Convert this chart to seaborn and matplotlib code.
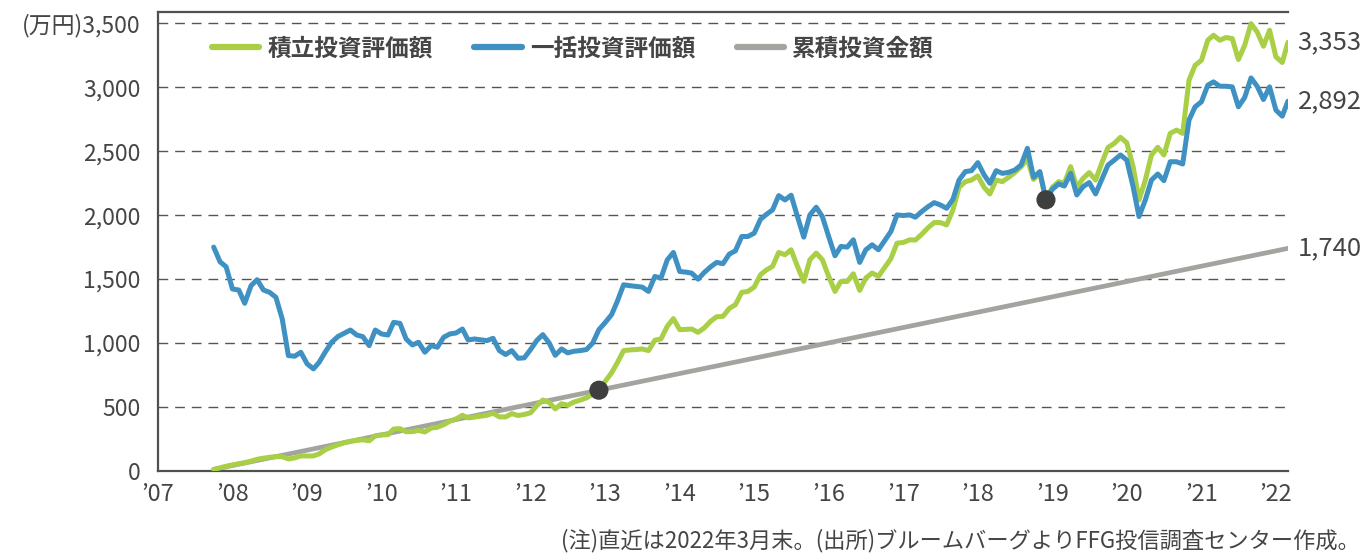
import matplotlib
matplotlib.use('Agg')
import matplotlib.pyplot as plt
import seaborn as sns
import pandas as pd

# monthly values, Oct 2007 - Mar 2022 (万円)
months = pd.date_range('2007-10-01', '2022-03-01', freq='MS')

tsumitate = [
    10, 22, 35, 45, 55, 63, 75, 89, 98, 105,
    110, 110, 92, 100, 116, 115, 116, 132, 165, 185,
    203, 218, 229, 237, 242, 234, 274, 280, 282, 326,
    329, 305, 306, 315, 303, 334, 340, 360, 387, 405,
    434, 413, 420, 426, 434, 450, 421, 421, 447, 432,
    440, 453, 510, 553, 535, 484, 524, 512, 537, 553,
    570, 600, 637, 700, 766, 844, 940, 945, 948, 953,
    940, 1021, 1031, 1130, 1190, 1104, 1106, 1109, 1083, 1117,
    1169, 1205, 1208, 1270, 1299, 1396, 1403, 1437, 1534, 1570,
    1599, 1708, 1690, 1729, 1599, 1481, 1651, 1703, 1651, 1521,
    1403, 1481, 1481, 1541, 1411, 1508, 1547, 1521, 1590, 1660,
    1781, 1786, 1807, 1805, 1850, 1900, 1942, 1942, 1924, 2041,
    2218, 2262, 2275, 2307, 2218, 2166, 2275, 2262, 2296, 2333,
    2379, 2440, 2280, 2330, 2120, 2218, 2262, 2250, 2379, 2218,
    2288, 2333, 2275, 2410, 2530, 2562, 2609, 2567, 2380, 2119,
    2275, 2471, 2531, 2471, 2640, 2666, 2640, 3056, 3173, 3212,
    3369, 3408, 3369, 3390, 3382, 3218, 3330, 3499, 3434, 3322,
    3447, 3239, 3195, 3353,
]

ikkatsu = [
    1750, 1635, 1596, 1422, 1414, 1310, 1448, 1495, 1414, 1396,
    1357, 1187, 901, 896, 927, 836, 797, 849, 932, 1005,
    1050, 1075, 1101, 1062, 1049, 979, 1101, 1070, 1062, 1161,
    1153, 1031, 984, 1005, 927, 979, 966, 1044, 1070, 1078,
    1109, 1023, 1031, 1025, 1018, 1036, 940, 909, 940, 880,
    883, 948, 1020, 1065, 1000, 903, 953, 922, 935, 940,
    948, 1000, 1104, 1160, 1221, 1325, 1455, 1448, 1442, 1437,
    1403, 1520, 1507, 1650, 1708, 1559, 1554, 1546, 1499, 1551,
    1595, 1630, 1620, 1695, 1721, 1833, 1833, 1859, 1968, 2005,
    2041, 2153, 2119, 2156, 1989, 1828, 2002, 2062, 1989, 1833,
    1682, 1755, 1750, 1807, 1630, 1729, 1768, 1729, 1800, 1872,
    2002, 1997, 2002, 1984, 2028, 2065, 2098, 2080, 2054, 2124,
    2275, 2341, 2348, 2411, 2315, 2249, 2348, 2327, 2335, 2353,
    2392, 2523, 2296, 2341, 2120, 2202, 2244, 2228, 2327, 2158,
    2223, 2255, 2166, 2280, 2392, 2431, 2471, 2431, 2223, 1989,
    2119, 2275, 2322, 2270, 2418, 2418, 2400, 2744, 2848, 2887,
    3017, 3043, 3009, 3009, 3004, 2848, 2921, 3074, 3009, 2905,
    3004, 2822, 2775, 2892,
]

# cumulative amount invested: straight line from first to last month
cum_dates = pd.to_datetime(['2007-10-01', '2022-03-01'])
cum_values = [10, 1740]

# highlighted points
dot_dates = pd.to_datetime(['2012-12-01', '2018-12-01'])
dot_values = [630, 2120]

series_names = ['積立投資評価額', '一括投資評価額', '累積投資金額']
yticks = [0, 500, 1000, 1500, 2000, 2500, 3000, 3500]
ytick_labels = ['0', '500', '1,000', '1,500', '2,000', '2,500', '3,000', '(万円)3,500']
xtick_years = list(range(2007, 2023))
xtick_labels = ["’07", "’08", "’09", "’10", "’11", "’12", "’13", "’14",
                "’15", "’16", "’17", "’18", "’19", "’20", "’21", "’22"]
note = '(注)直近は2022年3月末。(出所)ブルームバーグよりFFG投信調査センター作成。'

GREEN = '#a8cf45'
BLUE = '#3e91c2'
GRAY = '#a3a3a0'
TEXT = '#454545'
AXIS = '#505050'

sns.set_theme(style='white')
plt.rcParams['font.family'] = ['Noto Sans CJK JP', 'DejaVu Sans']
plt.rcParams['axes.unicode_minus'] = False

fig = plt.figure(figsize=(13.69, 5.55), dpi=100)
ax = fig.add_axes([0.1154, 0.1519, 0.8254, 0.8265])

sns.lineplot(x=months, y=tsumitate, ax=ax, color=GREEN, linewidth=3.6,
             label=series_names[0], zorder=3)
sns.lineplot(x=months, y=ikkatsu, ax=ax, color=BLUE, linewidth=3.6,
             label=series_names[1], zorder=4)
sns.lineplot(x=cum_dates, y=cum_values, ax=ax, color=GRAY, linewidth=3.4,
             label=series_names[2], zorder=2)
sns.scatterplot(x=dot_dates, y=dot_values, ax=ax, color='#3f3f3f', s=190,
                edgecolor='none', zorder=6, legend=False)

ax.set_xlim(pd.Timestamp('2007-01-01'), months[-1])
ax.set_ylim(0, 3590)

ax.set_yticks(yticks)
ax.set_yticklabels(ytick_labels)
ax.set_xticks([pd.Timestamp(f'{y}-01-01') for y in xtick_years])
ax.set_xticklabels(xtick_labels)
ax.set_xlabel('')
ax.set_ylabel('')

ax.tick_params(axis='x', direction='out', length=7, width=1.4,
               color=AXIS, labelsize=17, labelcolor=TEXT, pad=2)
ax.tick_params(axis='y', direction='inout', length=11, width=1.4,
               color=AXIS, labelsize=16.5, labelcolor=TEXT, pad=7)

for y in yticks[1:]:
    ax.axhline(y, color='#555555', linewidth=1, linestyle=(0, (7, 5)), zorder=1)

for side in ['left', 'bottom', 'top']:
    ax.spines[side].set_color(AXIS)
    ax.spines[side].set_linewidth(1.6)
ax.spines['right'].set_visible(False)

# end labels
for vals in [tsumitate, ikkatsu]:
    ax.annotate(f'{vals[-1]:,}', xy=(months[-1], vals[-1]), xytext=(7, 0),
                textcoords='offset points', va='center', ha='left',
                fontsize=18.5, color=TEXT, annotation_clip=False)
ax.annotate(f'{cum_values[-1]:,}', xy=(cum_dates[-1], cum_values[-1]), xytext=(7, 0),
            textcoords='offset points', va='center', ha='left',
            fontsize=18.5, color=TEXT, annotation_clip=False)

leg = ax.legend(loc='center left', bbox_to_anchor=(0.048, 0.92), ncol=3,
                frameon=False, borderaxespad=0, borderpad=0,
                handlelength=2.0, handletextpad=0.35, columnspacing=1.75,
                prop={'family': ['Noto Sans CJK JP', 'DejaVu Sans'],
                      'size': 17, 'weight': 'bold'})
for t in leg.get_texts():
    t.set_color(TEXT)
for h in leg.get_lines():
    h.set_linewidth(4.5)
    h.set_solid_capstyle('round')

fig.text(0.9935, 0.004, note, ha='right', va='bottom', fontsize=16, color=TEXT)

plt.savefig('out.png', dpi=100)
